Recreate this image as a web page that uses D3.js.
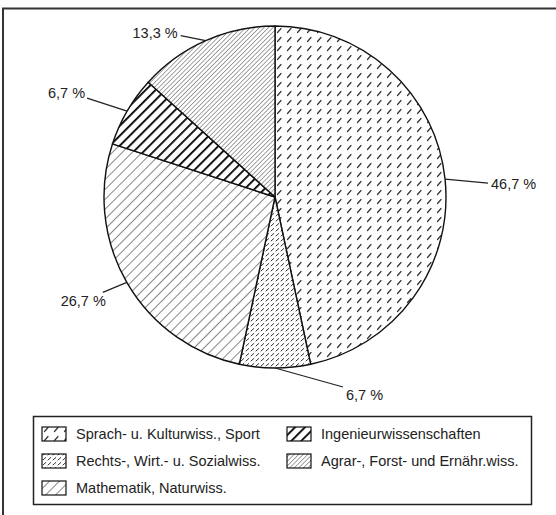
<!DOCTYPE html>
<html>
<head>
<meta charset="utf-8">
<script src="https://cdn.jsdelivr.net/npm/d3@7"></script>
<style>
  html, body { margin: 0; padding: 0; background: #fff; }
  text { font-family: "Liberation Sans", Arial, sans-serif; fill: #222; }
</style>
</head>
<body>
<script>
// chart data
const categories = [
  "Sprach- u. Kulturwiss., Sport",
  "Rechts-, Wirt.- u. Sozialwiss.",
  "Mathematik, Naturwiss.",
  "Ingenieurwissenschaften",
  "Agrar-, Forst- und Ernähr.wiss."
];
const shares = [46.7, 6.7, 26.7, 6.7, 13.3];
const shareLabels = ["46,7 %", "6,7 %", "26,7 %", "6,7 %", "13,3 %"];
const patternIds = ["pSprach", "pRechts", "pMathe", "pIng", "pAgrar"];

// legend order: two columns
const legendCols = [[0, 1, 2], [3, 4]];

// label leader layout (offset of leader end from arc point, then text offset)
const leaderEnd = [[43, 4], [68, 19], [-24, 10], [-40, -13], [-25, -5]];
const textOffset = [[3, 6], [3, 13], [3, 14], [-2, 0], [-3, 2]];
const textAnchor = ["start", "start", "end", "end", "end"];

let width = 556, height = 515;
let svg = null, defs = null;
let cx = 275, cy = 197, radius = 171;
let pie, arc, arcs;

appendSvg("body");
appendPatterns();
appendFrame();
appendSlices();
appendLabels();
appendLegend();

function appendSvg(domElement) {
  svg = d3.select(domElement).append("svg")
    .attr("width", width)
    .attr("height", height);
  defs = svg.append("defs");
}

function linePattern(id, spacing, strokeWidth, color) {
  const p = defs.append("pattern")
    .attr("id", id)
    .attr("patternUnits", "userSpaceOnUse")
    .attr("width", spacing)
    .attr("height", spacing)
    .attr("patternTransform", "rotate(45)");
  p.append("rect").attr("width", spacing).attr("height", spacing).attr("fill", "#fff");
  p.append("line")
    .attr("x1", 0).attr("y1", 0)
    .attr("x2", 0).attr("y2", spacing)
    .attr("stroke", color)
    .attr("stroke-width", strokeWidth);
}

function dashPattern(id, w, h, x1, y1, x2, y2, strokeWidth) {
  const p = defs.append("pattern")
    .attr("id", id)
    .attr("patternUnits", "userSpaceOnUse")
    .attr("width", w)
    .attr("height", h);
  p.append("rect").attr("width", w).attr("height", h).attr("fill", "#fff");
  p.append("line")
    .attr("x1", x1).attr("y1", y1)
    .attr("x2", x2).attr("y2", y2)
    .attr("stroke", "#333")
    .attr("stroke-width", strokeWidth)
    .attr("stroke-linecap", "round");
}

function appendPatterns() {
  dashPattern("pSprach", 10, 9, 2.5, 6.5, 6, 2.5, 1.2);
  dashPattern("pRechts", 5, 5, 1, 4, 3.8, 1.5, 1);
  linePattern("pMathe", 7, 1.1, "#222");
  linePattern("pIng", 7, 3.6, "#000");
  linePattern("pAgrar", 3.2, 0.9, "#333");
}

function appendFrame() {
  svg.append("line")
    .attr("x1", 2).attr("y1", 8.5).attr("x2", width).attr("y2", 8.5)
    .attr("stroke", "#333").attr("stroke-width", 2);
  svg.append("line")
    .attr("x1", 3).attr("y1", 8).attr("x2", 3).attr("y2", height)
    .attr("stroke", "#333").attr("stroke-width", 2);
}

function appendSlices() {
  pie = d3.pie().sort(null).value(d => d);
  arc = d3.arc().innerRadius(0).outerRadius(radius);
  arcs = pie(shares);

  const g = svg.append("g").attr("transform", `translate(${cx}, ${cy})`);
  g.selectAll("path")
    .data(arcs)
    .enter()
    .append("path")
    .attr("d", arc)
    .attr("fill", (d, i) => `url(#${patternIds[i]})`)
    .attr("stroke", "#111")
    .attr("stroke-width", 1.4)
    .attr("stroke-linejoin", "round");
}

function appendLabels() {
  const g = svg.append("g").attr("transform", `translate(${cx}, ${cy})`);
  arcs.forEach(function(d, i) {
    const mid = (d.startAngle + d.endAngle) / 2;
    const px = radius * Math.sin(mid);
    const py = -radius * Math.cos(mid);
    const ex = px + leaderEnd[i][0];
    const ey = py + leaderEnd[i][1];
    g.append("line")
      .attr("x1", px).attr("y1", py)
      .attr("x2", ex).attr("y2", ey)
      .attr("stroke", "#222")
      .attr("stroke-width", 1.2);
    g.append("text")
      .attr("x", ex + textOffset[i][0])
      .attr("y", ey + textOffset[i][1])
      .attr("text-anchor", textAnchor[i])
      .attr("font-size", "14.5px")
      .text(shareLabels[i]);
  });
}

function appendLegend() {
  const box = {x: 33.5, y: 416.5, w: 498, h: 88};
  svg.append("rect")
    .attr("x", box.x).attr("y", box.y)
    .attr("width", box.w).attr("height", box.h)
    .attr("fill", "#fff")
    .attr("stroke", "#222")
    .attr("stroke-width", 1.5);

  const colX = [42, 287];
  const rowY = d3.scalePoint().domain([0, 1, 2]).range([434, 488]);

  legendCols.forEach(function(col, c) {
    const items = svg.selectAll(`.legend-${c}`)
      .data(col)
      .enter()
      .append("g")
      .attr("class", `legend-${c}`)
      .attr("transform", (d, r) => `translate(${colX[c]}, ${rowY(r)})`);
    items.append("rect")
      .attr("x", 0).attr("y", -7)
      .attr("width", 24).attr("height", 14)
      .attr("fill", d => `url(#${patternIds[d]})`)
      .attr("stroke", "#111")
      .attr("stroke-width", 1.2);
    items.append("text")
      .attr("x", 34)
      .attr("y", 0)
      .attr("dy", "0.36em")
      .attr("font-size", "14.5px")
      .text(d => categories[d]);
  });
}
</script>
</body>
</html>
